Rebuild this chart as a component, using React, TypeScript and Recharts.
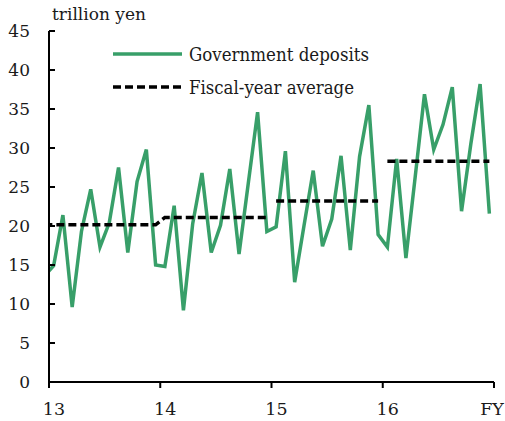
import { LineChart, Line, XAxis, YAxis, Legend } from "recharts";

// fiscal years shown on the axis (17 is labelled "FY")
const fiscalYears = [13, 14, 15, 16, 17];
const yTicks = [0, 5, 10, 15, 20, 25, 30, 35, 40, 45];

// monthly government deposits, trillion yen, Apr 2013 .. Mar 2017
const deposits = [
  14.9, 21.4, 9.6, 19.3, 24.7, 17.3, 20.4, 27.5, 16.6, 25.7, 29.8, 15.0,
  14.8, 22.6, 9.2, 20.3, 26.8, 16.6, 20.1, 27.3, 16.4, 25.5, 34.6, 19.3,
  19.9, 29.6, 12.8, 20.0, 27.1, 17.4, 20.9, 29.0, 16.9, 28.9, 35.5, 18.9,
  17.3, 28.6, 15.9, 26.3, 36.9, 29.8, 33.0, 37.8, 21.9, 30.5, 38.2, 21.6,
];
// March 2013, just left of the axis (clipped)
const priorMonth = 13.6;

// fiscal-year averages FY13..FY16
const fyAverage = [20.15, 21.1, 23.2, 28.3];

const GREEN = "#389f69";
const FONT = "DejaVu Serif, serif";
const txt = { fontFamily: FONT, fill: "#1a1a1a" };

const data = [priorMonth, ...deposits].map((v, k) => {
  const i = k - 1;
  const fy = Math.max(0, Math.floor(i / 12));
  return {
    x: 13 + (i + 0.5) / 12,
    deposits: v,
    avgA: fy <= 1 ? fyAverage[fy] : null,
    avgB: fy === 2 ? fyAverage[2] : null,
    avgC: fy === 3 ? fyAverage[3] : null,
  };
});

const XTick = (props: any) => {
  const { x, y, payload } = props;
  const label = payload.value === 17 ? "FY" : String(payload.value);
  const dx = payload.value === 17 ? -2 : 5;
  return (
    <g>
      <line x1={x} y1={y} x2={x} y2={y + 6} stroke="#000" strokeWidth={2} />
      <text x={x + dx} y={y + 33} textAnchor="middle" fontSize={17.5} style={txt}>
        {label}
      </text>
    </g>
  );
};

const YTick = (props: any) => {
  const { x, y, payload } = props;
  return (
    <g>
      <line x1={x} y1={y} x2={x + 6} y2={y} stroke="#000" strokeWidth={2} />
      <text x={x - 19} y={y + 6} textAnchor="end" fontSize={17} style={txt}>
        {payload.value}
      </text>
    </g>
  );
};

const UnitLabel = (props: any) => {
  const { viewBox } = props;
  return (
    <text x={viewBox.x + viewBox.width + 3} y={viewBox.y - 11} fontSize={17} style={txt}>
      trillion yen
    </text>
  );
};

const LegendBox = () => (
  <svg width={330} height={62}>
    <line x1={3} y1={14} x2={72} y2={14} stroke={GREEN} strokeWidth={3.5} />
    <text x={79} y={21} fontSize={19} style={txt} textLength={180} lengthAdjust="spacingAndGlyphs">
      Government deposits
    </text>
    <line x1={3} y1={47} x2={72} y2={47} stroke="#000" strokeWidth={3.5} strokeDasharray="8 4" />
    <text x={79} y={54} fontSize={19} style={txt} textLength={165} lengthAdjust="spacingAndGlyphs">
      Fiscal-year average
    </text>
  </svg>
);

export default function App() {
  return (
    <div style={{ position: "absolute", left: 0, top: 0 }}>
      <LineChart width={505} height={421} data={data} margin={{ top: 31, right: 11, left: 0, bottom: 9 }}>
        <XAxis
          type="number"
          dataKey="x"
          domain={[13, 17]}
          ticks={fiscalYears}
          allowDataOverflow
          height={30}
          stroke="#000"
          strokeWidth={2}
          tickLine={false}
          tickSize={0}
          tickMargin={0}
          tick={<XTick />}
        />
        <YAxis
          domain={[0, 45]}
          ticks={yTicks}
          width={49}
          stroke="#000"
          strokeWidth={2}
          tickLine={false}
          tickSize={0}
          tickMargin={0}
          tick={<YTick />}
          label={<UnitLabel />}
        />
        <Legend
          layout="horizontal"
          verticalAlign="middle"
          align="center"
          wrapperStyle={{ top: 40, left: 110, width: 330 }}
          content={<LegendBox />}
        />
        <Line dataKey="deposits" stroke={GREEN} strokeWidth={3.5} dot={false} isAnimationActive={false} />
        <Line dataKey="avgA" stroke="#000" strokeWidth={3.5} strokeDasharray="8 4" dot={false} isAnimationActive={false} />
        <Line dataKey="avgB" stroke="#000" strokeWidth={3.5} strokeDasharray="8 4" dot={false} isAnimationActive={false} />
        <Line dataKey="avgC" stroke="#000" strokeWidth={3.5} strokeDasharray="8 4" dot={false} isAnimationActive={false} />
      </LineChart>
    </div>
  );
}
